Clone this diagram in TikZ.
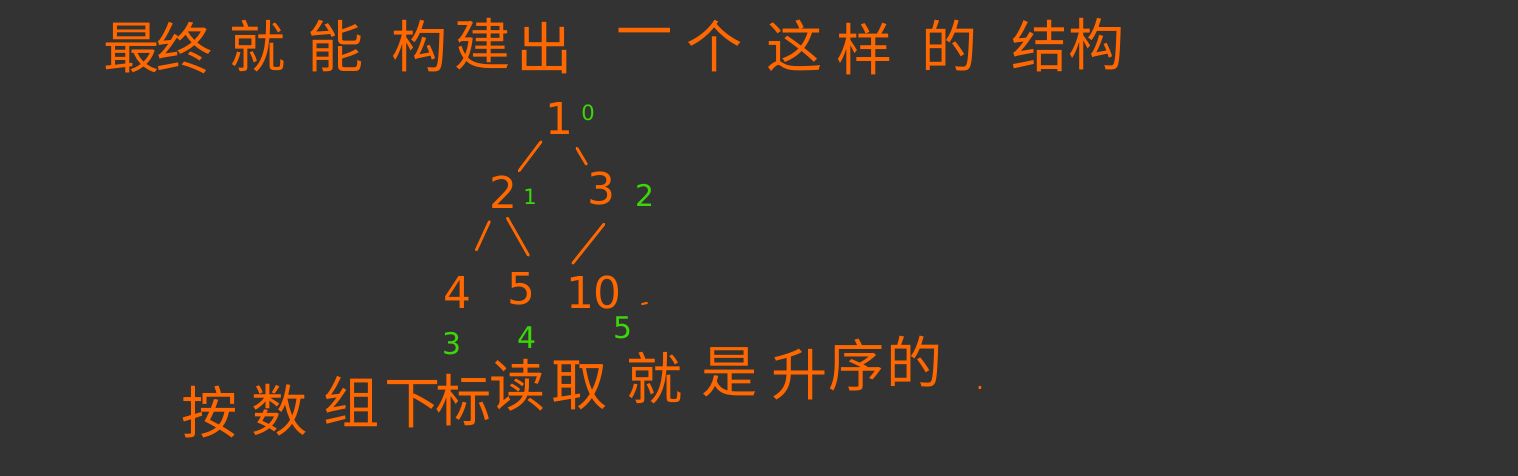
\documentclass[tikz,border=0pt]{standalone}
\usepackage{fontspec}
\newfontfamily\cjk{Noto Sans CJK SC}
\setmainfont{DejaVu Sans}
\definecolor{bg}{RGB}{51,51,51}
\definecolor{ora}{RGB}{255,104,0}
\definecolor{grn}{RGB}{60,215,10}
\begin{document}
\begin{tikzpicture}[x=0.02cm,y=-0.02cm,
  hz/.style={text=ora,font=\cjk\fontsize{32}{34}\selectfont,inner sep=0pt},
  num/.style={text=ora,font=\fontsize{25}{27}\selectfont,inner sep=1pt},
  idx/.style={text=grn,font=\fontsize{17}{19}\selectfont,inner sep=0pt},
  sidx/.style={text=grn,font=\fontsize{12}{13}\selectfont,inner sep=0pt},
  edge/.style={draw=ora,line width=1.6pt,line cap=round}]
\fill[bg] (0,0) rectangle (1518,476);
\useasboundingbox (0,0) rectangle (1518,476);
% top title
\foreach \c/\x/\y [count=\i] in {最/132/48,终/185/48,就/258/46,能/336/46,构/420/46,建/483/44,出/545/48,一/645/40,个/715/46,这/795/46,样/865/49,的/950/46,结/1040/46,构/1097/44}
  \node[hz] (t\i) at (\x,\y) {\c};
% bottom sentence
\foreach \c/\x/\y [count=\i] in {按/210/412,数/280/410,组/352/402,下/413/404,标/464/400,读/518/385,取/580/385,就/655/378,是/730/372,升/800/375,序/857/365,的/915/362}
  \node[hz] (b\i) at (\x,\y) {\c};
\node[text=ora,font=\fontsize{14}{16}\selectfont,inner sep=0pt] (dot) at (980,388) {.};
% tree nodes
\node[num] (n1) at (559,118) {1};
\node[sidx] (i0) at (588,113) {0};
\node[num] (n2) at (503,192) {2};
\node[sidx] (i1) at (530,197) {1};
\node[num] (n3) at (601,189) {3};
\node[idx] (i2) at (645,195) {2};
\node[num] (n4) at (457,292) {4};
\node[idx] (i3) at (452,344) {3};
\node[num] (n5) at (521,289) {5};
\node[idx] (i4) at (527,338) {4};
\node[num] (n6) at (594,293) {10};
\node[idx] (i5) at (623,328) {5};
\coordinate (m) at (642,304);
\draw[edge,line width=1.2pt] (m) -- ++(5,-1);
% edges
\draw[edge,shorten <=4pt,shorten >=2pt] (n1) -- (n2);
\draw[edge,shorten <=8pt,shorten >=4pt] (n1) -- (n3);
\draw[edge,shorten <=7pt,shorten >=15pt] (n2) -- (n4);
\draw[edge,shorten <=5pt,shorten >=10pt] (n2.south) -- (n5.north east);
\draw[edge,shorten <=12pt,shorten >=8pt] (n3.south east) -- (n6.north west);
\end{tikzpicture}
\end{document}
